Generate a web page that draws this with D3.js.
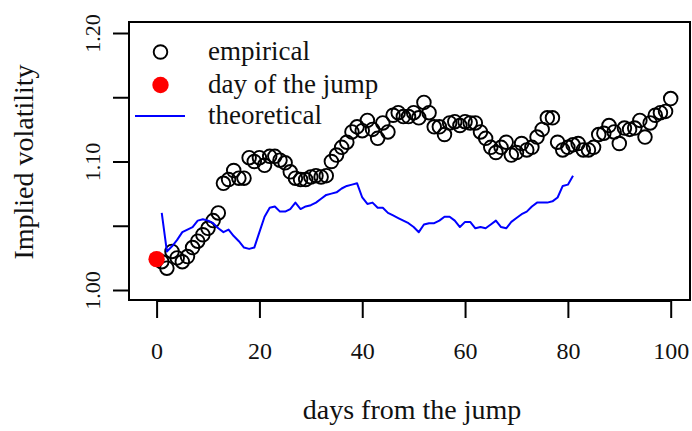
<!DOCTYPE html>
<html>
<head>
<meta charset="utf-8">
<script src="https://cdn.jsdelivr.net/npm/d3@7"></script>
<style>
  html, body { margin: 0; padding: 0; background: #fff; }
  svg { display: block; }
  text { font-family: "Liberation Serif", "Times New Roman", serif; fill: #111; }
</style>
</head>
<body>
<div id="chart"></div>
<script>
// ---- data ----
const empiricalDays = d3.range(1, 101);
const empiricalValues = [
  1.022, 1.017, 1.030, 1.025, 1.022, 1.026, 1.033, 1.038, 1.043, 1.048,
  1.054, 1.060, 1.083, 1.086, 1.093, 1.087, 1.087, 1.103, 1.100, 1.103,
  1.097, 1.104, 1.104, 1.101, 1.099, 1.092, 1.087, 1.086, 1.086, 1.088,
  1.089, 1.088, 1.089, 1.100, 1.105, 1.111, 1.115, 1.123, 1.127, 1.124,
  1.132, 1.125, 1.118, 1.130, 1.123, 1.136, 1.138, 1.135, 1.135, 1.138,
  1.134, 1.146, 1.138, 1.127, 1.127, 1.121, 1.130, 1.131, 1.128, 1.131,
  1.130, 1.130, 1.123, 1.118, 1.111, 1.107, 1.111, 1.115, 1.105, 1.107,
  1.114, 1.109, 1.111, 1.119, 1.125, 1.134, 1.134, 1.115, 1.109, 1.111,
  1.113, 1.114, 1.109, 1.109, 1.111, 1.121, 1.122, 1.128, 1.123, 1.114,
  1.126, 1.125, 1.126, 1.132, 1.119, 1.130, 1.136, 1.138, 1.139, 1.149
];
const jumpDay = [0];
const jumpValue = [1.024];
const theoreticalDays = d3.range(1, 82);
const theoreticalValues = [
  1.060, 1.030, 1.034, 1.039, 1.045, 1.047, 1.049, 1.054, 1.055, 1.054,
  1.052, 1.048, 1.045, 1.047, 1.042, 1.038, 1.033, 1.032, 1.033, 1.045,
  1.057, 1.064, 1.065, 1.061, 1.061, 1.063, 1.068, 1.063, 1.065, 1.066,
  1.068, 1.071, 1.074, 1.075, 1.076, 1.079, 1.081, 1.082, 1.083, 1.072,
  1.067, 1.068, 1.064, 1.064, 1.060, 1.058, 1.056, 1.054, 1.052, 1.049,
  1.045, 1.051, 1.052, 1.052, 1.054, 1.057, 1.057, 1.054, 1.049, 1.053,
  1.053, 1.048, 1.049, 1.048, 1.051, 1.054, 1.049, 1.048, 1.053, 1.056,
  1.059, 1.061, 1.065, 1.068, 1.068, 1.068, 1.069, 1.072, 1.081, 1.082,
  1.089
];
const xTicks = [0, 20, 40, 60, 80, 100];
const yTicks = [1.00, 1.05, 1.10, 1.15, 1.20];
const yTickLabels = ["1.00", "", "1.10", "", "1.20"];
const legendLabels = ["empirical", "day of the jump", "theoretical"];

// ---- layout ----
const W = 692, H = 431;
const box = {left: 129, right: 690, top: 22, bottom: 300};

const svg = d3.select("#chart").append("svg")
  .attr("width", W).attr("height", H);

const x = d3.scaleLinear().domain([0, 100]).range([156.6, 670.7]);
const y = d3.scaleLinear().domain([1.00, 1.20]).range([290, 33]);

// empirical circles
svg.append("g").selectAll("circle")
  .data(empiricalDays.map((d, i) => [d, empiricalValues[i]]))
  .join("circle")
  .attr("cx", d => x(d[0]))
  .attr("cy", d => y(d[1]))
  .attr("r", 6.8)
  .attr("fill", "none")
  .attr("stroke", "#000")
  .attr("stroke-width", 1.9);

// theoretical line
const line = d3.line().x(d => x(d[0])).y(d => y(d[1]));
svg.append("path")
  .datum(theoreticalDays.map((d, i) => [d, theoreticalValues[i]]))
  .attr("d", line)
  .attr("fill", "none")
  .attr("stroke", "#0000ff")
  .attr("stroke-width", 2)
  .attr("stroke-linejoin", "round");

// jump day point
svg.append("g").selectAll("circle")
  .data(jumpDay.map((d, i) => [d, jumpValue[i]]))
  .join("circle")
  .attr("cx", d => x(d[0]))
  .attr("cy", d => y(d[1]))
  .attr("r", 8.2)
  .attr("fill", "#ff0000");

// box
svg.append("rect")
  .attr("x", box.left).attr("y", box.top)
  .attr("width", box.right - box.left).attr("height", box.bottom - box.top)
  .attr("fill", "none").attr("stroke", "#000").attr("stroke-width", 2);

// x axis
const xAxis = d3.axisBottom(x).tickValues(xTicks).tickSize(17).tickPadding(24)
  .tickFormat(d3.format("d"));
const gx = svg.append("g").attr("transform", `translate(0,${box.bottom + 1})`).call(xAxis);
gx.select(".domain").attr("stroke-width", 2).attr("d", `M${x(0)},0H${x(100)}`);
gx.selectAll(".tick line").attr("stroke-width", 2);
gx.selectAll(".tick text").attr("font-size", 24).attr("fill", "#111")
  .attr("font-family", "Liberation Serif");

// y axis
const yAxis = d3.axisLeft(y).tickValues(yTicks).tickSize(16).tickPadding(0)
  .tickFormat((d, i) => yTickLabels[i]);
const gy = svg.append("g").attr("transform", `translate(${box.left},0)`).call(yAxis);
gy.select(".domain").attr("stroke-width", 2).attr("d", `M0,${y(1.00)}V${y(1.20)}`);
gy.selectAll(".tick line").attr("stroke-width", 2);
gy.selectAll(".tick text")
  .attr("font-size", 22).attr("fill", "#111")
  .attr("font-family", "Liberation Serif")
  .attr("text-anchor", "middle")
  .attr("x", 0).attr("dy", 0)
  .attr("transform", "translate(-37,0) rotate(-90)")
  .attr("dominant-baseline", "central");

// axis titles
svg.append("text")
  .attr("x", 412).attr("y", 419)
  .attr("text-anchor", "middle")
  .attr("font-size", 28)
  .text("days from the jump");
svg.append("text")
  .attr("transform", `translate(33,${(box.top + box.bottom) / 2 + 1}) rotate(-90)`)
  .attr("text-anchor", "middle")
  .attr("font-size", 28)
  .text("Implied volatility");

// legend
const lg = svg.append("g");
const ly = [52, 85, 116];
lg.append("circle").attr("cx", 160.5).attr("cy", ly[0]).attr("r", 6.8)
  .attr("fill", "none").attr("stroke", "#000").attr("stroke-width", 1.9);
lg.append("circle").attr("cx", 160.5).attr("cy", ly[1]).attr("r", 8.2)
  .attr("fill", "#ff0000");
lg.append("line").attr("x1", 135).attr("x2", 185).attr("y1", ly[2]).attr("y2", ly[2])
  .attr("stroke", "#0000ff").attr("stroke-width", 2);
lg.selectAll("text").data(legendLabels).join("text")
  .attr("x", 208).attr("y", (d, i) => ly[i] + 8)
  .attr("font-size", 27)
  .text(d => d);
</script>
</body>
</html>
